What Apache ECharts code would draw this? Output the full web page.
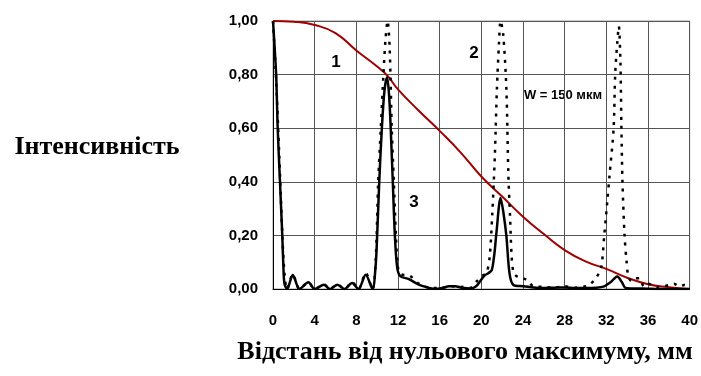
<!DOCTYPE html>
<html>
<head>
<meta charset="utf-8">
<script src="https://cdn.jsdelivr.net/npm/echarts@6/dist/echarts.min.js"></script>
<style>
html,body{margin:0;padding:0;background:#fff;}
#c{width:701px;height:376px;}
</style>
</head>
<body>
<div id="c"></div>
<script>
// Curve 1 (red)
const x1 = [0,2,4,6,8,10,11,12,14,16,18,20,22,24,26,28,30,32,34,36,38,40];
const y1 = [1.00,0.997,0.985,0.955,0.89,0.83,0.795,0.745,0.665,0.59,0.51,0.42,0.345,0.27,0.205,0.145,0.103,0.075,0.042,0.018,0.007,0.0];

// Curve 2 (dotted)
const x2 = [0,0.3,0.6,0.9,1.1,1.35,1.9,2.55,3.4,4.0,4.9,5.45,6.2,6.85,7.6,8.2,8.9,9.55,9.85,10.1,10.35,10.6,10.8,11.0,11.2,11.4,11.6,11.8,12.0,12.3,13.1,14.0,15.0,16,17,18,19,19.6,20.1,20.5,20.8,21.05,21.3,21.5,21.7,21.85,22.1,22.4,22.6,22.75,22.9,23.1,23.5,24.0,24.5,25,26,27,28,29,30,30.5,31,31.5,31.8,32.1,32.3,32.7,32.85,33.05,33.2,33.35,33.45,33.55,33.75,33.95,34.1,34.4,34.8,35.2,35.6,36,37,38,38.5,39,39.5,40];
const y2 = [1.0,0.78,0.5,0.2,0.06,0.0,0.055,0.0,0.025,0,0.017,0,0.017,0,0.025,0,0.06,0,0.1,0.4,0.6,0.8,0.93,1.0,0.9,0.6,0.4,0.2,0.08,0.055,0.05,0.02,0.005,0.004,0.01,0.008,0.005,0.03,0.05,0.06,0.12,0.28,0.5,0.75,0.92,1.0,0.95,0.75,0.42,0.28,0.13,0.06,0.045,0.04,0.03,0.01,0.008,0.005,0.01,0.005,0.01,0.02,0.04,0.08,0.2,0.33,0.42,0.6,0.8,0.92,0.98,0.85,0.6,0.4,0.2,0.1,0.05,0.03,0.04,0.04,0.01,0.02,0.005,0.015,0.02,0.01,0.015,0.01];

// Curve 3 (solid)
const x3 = [0,0.3,0.45,0.67,0.89,1.0,1.1,1.35,1.9,2.55,3.4,4.0,4.9,5.45,6.2,6.85,7.6,8.2,8.9,9.55,9.85,10.0,10.2,10.45,10.7,10.95,11.15,11.3,11.5,11.7,11.93,12.25,13.05,14.0,15.0,15.6,16.3,16.9,17.5,18.1,19.0,19.5,19.9,20.3,20.7,21.0,21.25,21.45,21.85,22.1,22.4,22.7,23.05,24,25,26,27,28,29,30,31,31.8,32.4,33.05,33.5,33.85,35,36,37,38,39,40];
const y3 = [1.0,0.8,0.6,0.4,0.2,0.08,0.02,0.0,0.052,0,0.025,0,0.016,0,0.016,0,0.022,0,0.053,0,0.085,0.2,0.4,0.6,0.74,0.79,0.72,0.6,0.4,0.2,0.078,0.047,0.037,0.016,0.004,0,0.004,0.01,0.01,0.005,0.002,0.01,0.03,0.05,0.06,0.07,0.13,0.21,0.34,0.29,0.2,0.06,0.016,0.01,0.006,0.004,0.005,0.006,0.004,0.004,0.005,0.01,0.025,0.047,0.025,0.004,0.002,0.001,0,0,0,0];

const xTicks = {min:0, max:40, step:4};
const yTicks = {min:0, max:1, step:0.2};
const labels = [
  {text:'1', x:336, y:62, size:17},
  {text:'2', x:474, y:53, size:17},
  {text:'3', x:414, y:202, size:17},
  {text:'W = 150 мкм', x:563, y:95, size:13}
];
const yTitle = 'Інтенсивність';
const xTitle = 'Відстань від нульового максимуму, мм';

const zip = (xs, ys) => xs.map((v,i)=>[v, ys[i]]);
const sans = "'Liberation Sans',Arial,sans-serif";
const serif = "'Liberation Serif','Times New Roman',serif";

const chart = echarts.init(document.getElementById('c'), null, {renderer:'canvas'});
chart.setOption({
  animation:false,
  backgroundColor:'#fff',
  grid:{left:273, top:21, width:420, height:268, show:true, borderColor:'#999', borderWidth:1, backgroundColor:'transparent'},
  xAxis:{type:'value', min:xTicks.min, max:xTicks.max, interval:xTicks.step,
    axisLine:{show:true, onZero:false, lineStyle:{color:'#000', width:1}},
    axisTick:{show:false},
    splitLine:{show:true, lineStyle:{color:'#555', width:1}},
    axisLabel:{margin:24, color:'#000', fontFamily:sans, fontWeight:'bold', fontSize:15}
  },
  yAxis:{type:'value', min:yTicks.min, max:yTicks.max, interval:yTicks.step,
    axisLine:{show:true, onZero:false, lineStyle:{color:'#000', width:1}},
    axisTick:{show:false},
    splitLine:{show:true, lineStyle:{color:'#555', width:1}},
    axisLabel:{margin:15, color:'#000', fontFamily:sans, fontWeight:'bold', fontSize:15,
      formatter:v=>v.toFixed(2).replace('.',',')}
  },
  series:[
    {type:'line', data:zip(x1,y1), smooth:true, showSymbol:false, z:2,
      lineStyle:{color:'#a00000', width:2}},
    {type:'line', data:zip(x2,y2), smooth:0.3, showSymbol:false, z:3,
      lineStyle:{color:'#000', width:2.5, type:[3,6]}},
    {type:'line', data:zip(x3,y3), smooth:0.3, showSymbol:false, z:4,
      lineStyle:{color:'#000', width:2.5}}
  ],
  graphic:[
    ...labels.map(l=>({type:'text', x:l.x, y:l.y, style:{text:l.text, fill:'#000',
      font:"bold " + l.size + "px " + sans, textAlign:'center', textVerticalAlign:'middle'}})),
    {type:'text', x:97, y:147, style:{text:yTitle, fill:'#000', font:"bold 26px "+serif, textAlign:'center', textVerticalAlign:'middle'}},
    {type:'text', x:465, y:352, style:{text:xTitle, fill:'#000', font:"bold 26px "+serif, textAlign:'center', textVerticalAlign:'middle'}}
  ]
});
</script>
</body>
</html>
